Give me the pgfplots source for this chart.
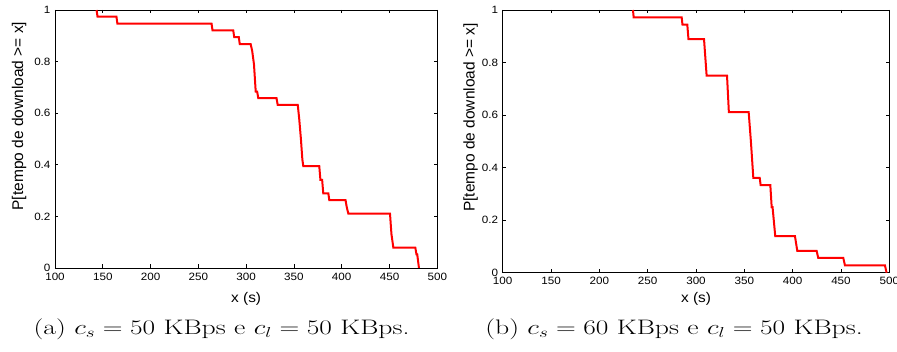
\documentclass[border=0pt]{standalone}
\usepackage{fontspec}
\usepackage{pgfplots}
\pgfplotsset{compat=1.18}
\usepackage{graphicx}
\newfontfamily\tickfont[FakeStretch=1.1]{Liberation Sans}
\newfontfamily\labfont{Liberation Sans}
\pgfplotsset{
  cdfstyle/.style={
    scale only axis,
    anchor=south west,
    xmin=100, xmax=500, ymin=0, ymax=1,
    xtick={100,150,...,500},
    ytick={0,0.2,0.4,0.6,0.8,1},
    tick align=inside,
    xtick pos=both, ytick pos=both,
    major tick length=3.5pt,
    axis line style={line width=0.8pt},
    every tick/.style={line width=0.6pt, black},
    /pgf/number format/assume math mode=true,
    tick label style={font=\tickfont\fontsize{10.6}{11}\selectfont},
    xticklabel style={yshift=-1.2pt},
    yticklabel style={xshift=-1.0pt},
    x label style={font=\tickfont\fontsize{14}{15}\selectfont},
    y label style={font=\labfont\fontsize{15.5}{16}\selectfont, rotate=0},
    xlabel={x (s)},
    ylabel={P[tempo de download >= x]},
  }
}
\begin{document}
\begin{tikzpicture}
\useasboundingbox (0,0) rectangle (897pt,351pt);
\begin{axis}[cdfstyle,
  at={(55pt,83pt)}, width=382.3pt, height=258pt,
  xlabel style={at={(axis description cs:0.5,-0.12)}, anchor=center},
  ylabel style={at={(axis description cs:-0.094,0.589)}, anchor=center},
]
\addplot[red, line width=2pt] coordinates {
(143.5,1.0) (144.5,0.974) (164.3,0.974) (165.3,0.947)
(263.8,0.947) (264.8,0.921) (286.5,0.921) (287.5,0.895)
(292.3,0.895) (293.3,0.868) (304.7,0.868) (306.3,0.842)
(308.2,0.789) (310.0,0.684) (311.5,0.684) (312.7,0.658)
(331.8,0.658) (333.0,0.632) (354.0,0.632) (355.5,0.579)
(357.3,0.50) (358.8,0.421) (359.8,0.395) (376.5,0.395)
(377.7,0.342) (379.5,0.342) (380.7,0.289) (386.0,0.289)
(387.0,0.263) (404.0,0.263) (405.2,0.237) (406.9,0.211)
(450.5,0.211) (452.0,0.132) (454.0,0.079) (477.0,0.079)
(478.2,0.053) (479.0,0.053) (480.8,0.0)
};
\end{axis}
\begin{axis}[cdfstyle,
  at={(502.7pt,78.3pt)}, width=386.6pt, height=262.7pt,
  xlabel style={at={(axis description cs:0.5,-0.10)}, anchor=center},
  ylabel style={at={(axis description cs:-0.083,0.591)}, anchor=center},
]
\addplot[red, line width=2pt] coordinates {
(234.8,1.0) (235.5,0.972) (285.2,0.972) (286.0,0.944)
(291.0,0.944) (292.2,0.889) (308.3,0.889) (311.0,0.75)
(332.1,0.75) (334.0,0.611) (354.5,0.611) (356.8,0.50)
(359.3,0.361) (365.9,0.361) (366.9,0.333) (376.9,0.333)
(378.3,0.25) (379.2,0.25) (382.0,0.139) (402.4,0.139)
(404.8,0.083) (424.8,0.083) (426.5,0.056) (452.4,0.056)
(454.1,0.028) (495.5,0.028) (497.2,0.0)
};
\end{axis}
\node[anchor=base, inner sep=0pt] at (221.5pt,17pt) {\scalebox{1.32}[1]{\fontsize{21}{25}\selectfont (a) $c_s = 50$ KBps e $c_l = 50$ KBps.}};
\node[anchor=base, inner sep=0pt] at (674pt,17pt) {\scalebox{1.32}[1]{\fontsize{21}{25}\selectfont (b) $c_s = 60$ KBps e $c_l = 50$ KBps.}};
\end{tikzpicture}
\end{document}
